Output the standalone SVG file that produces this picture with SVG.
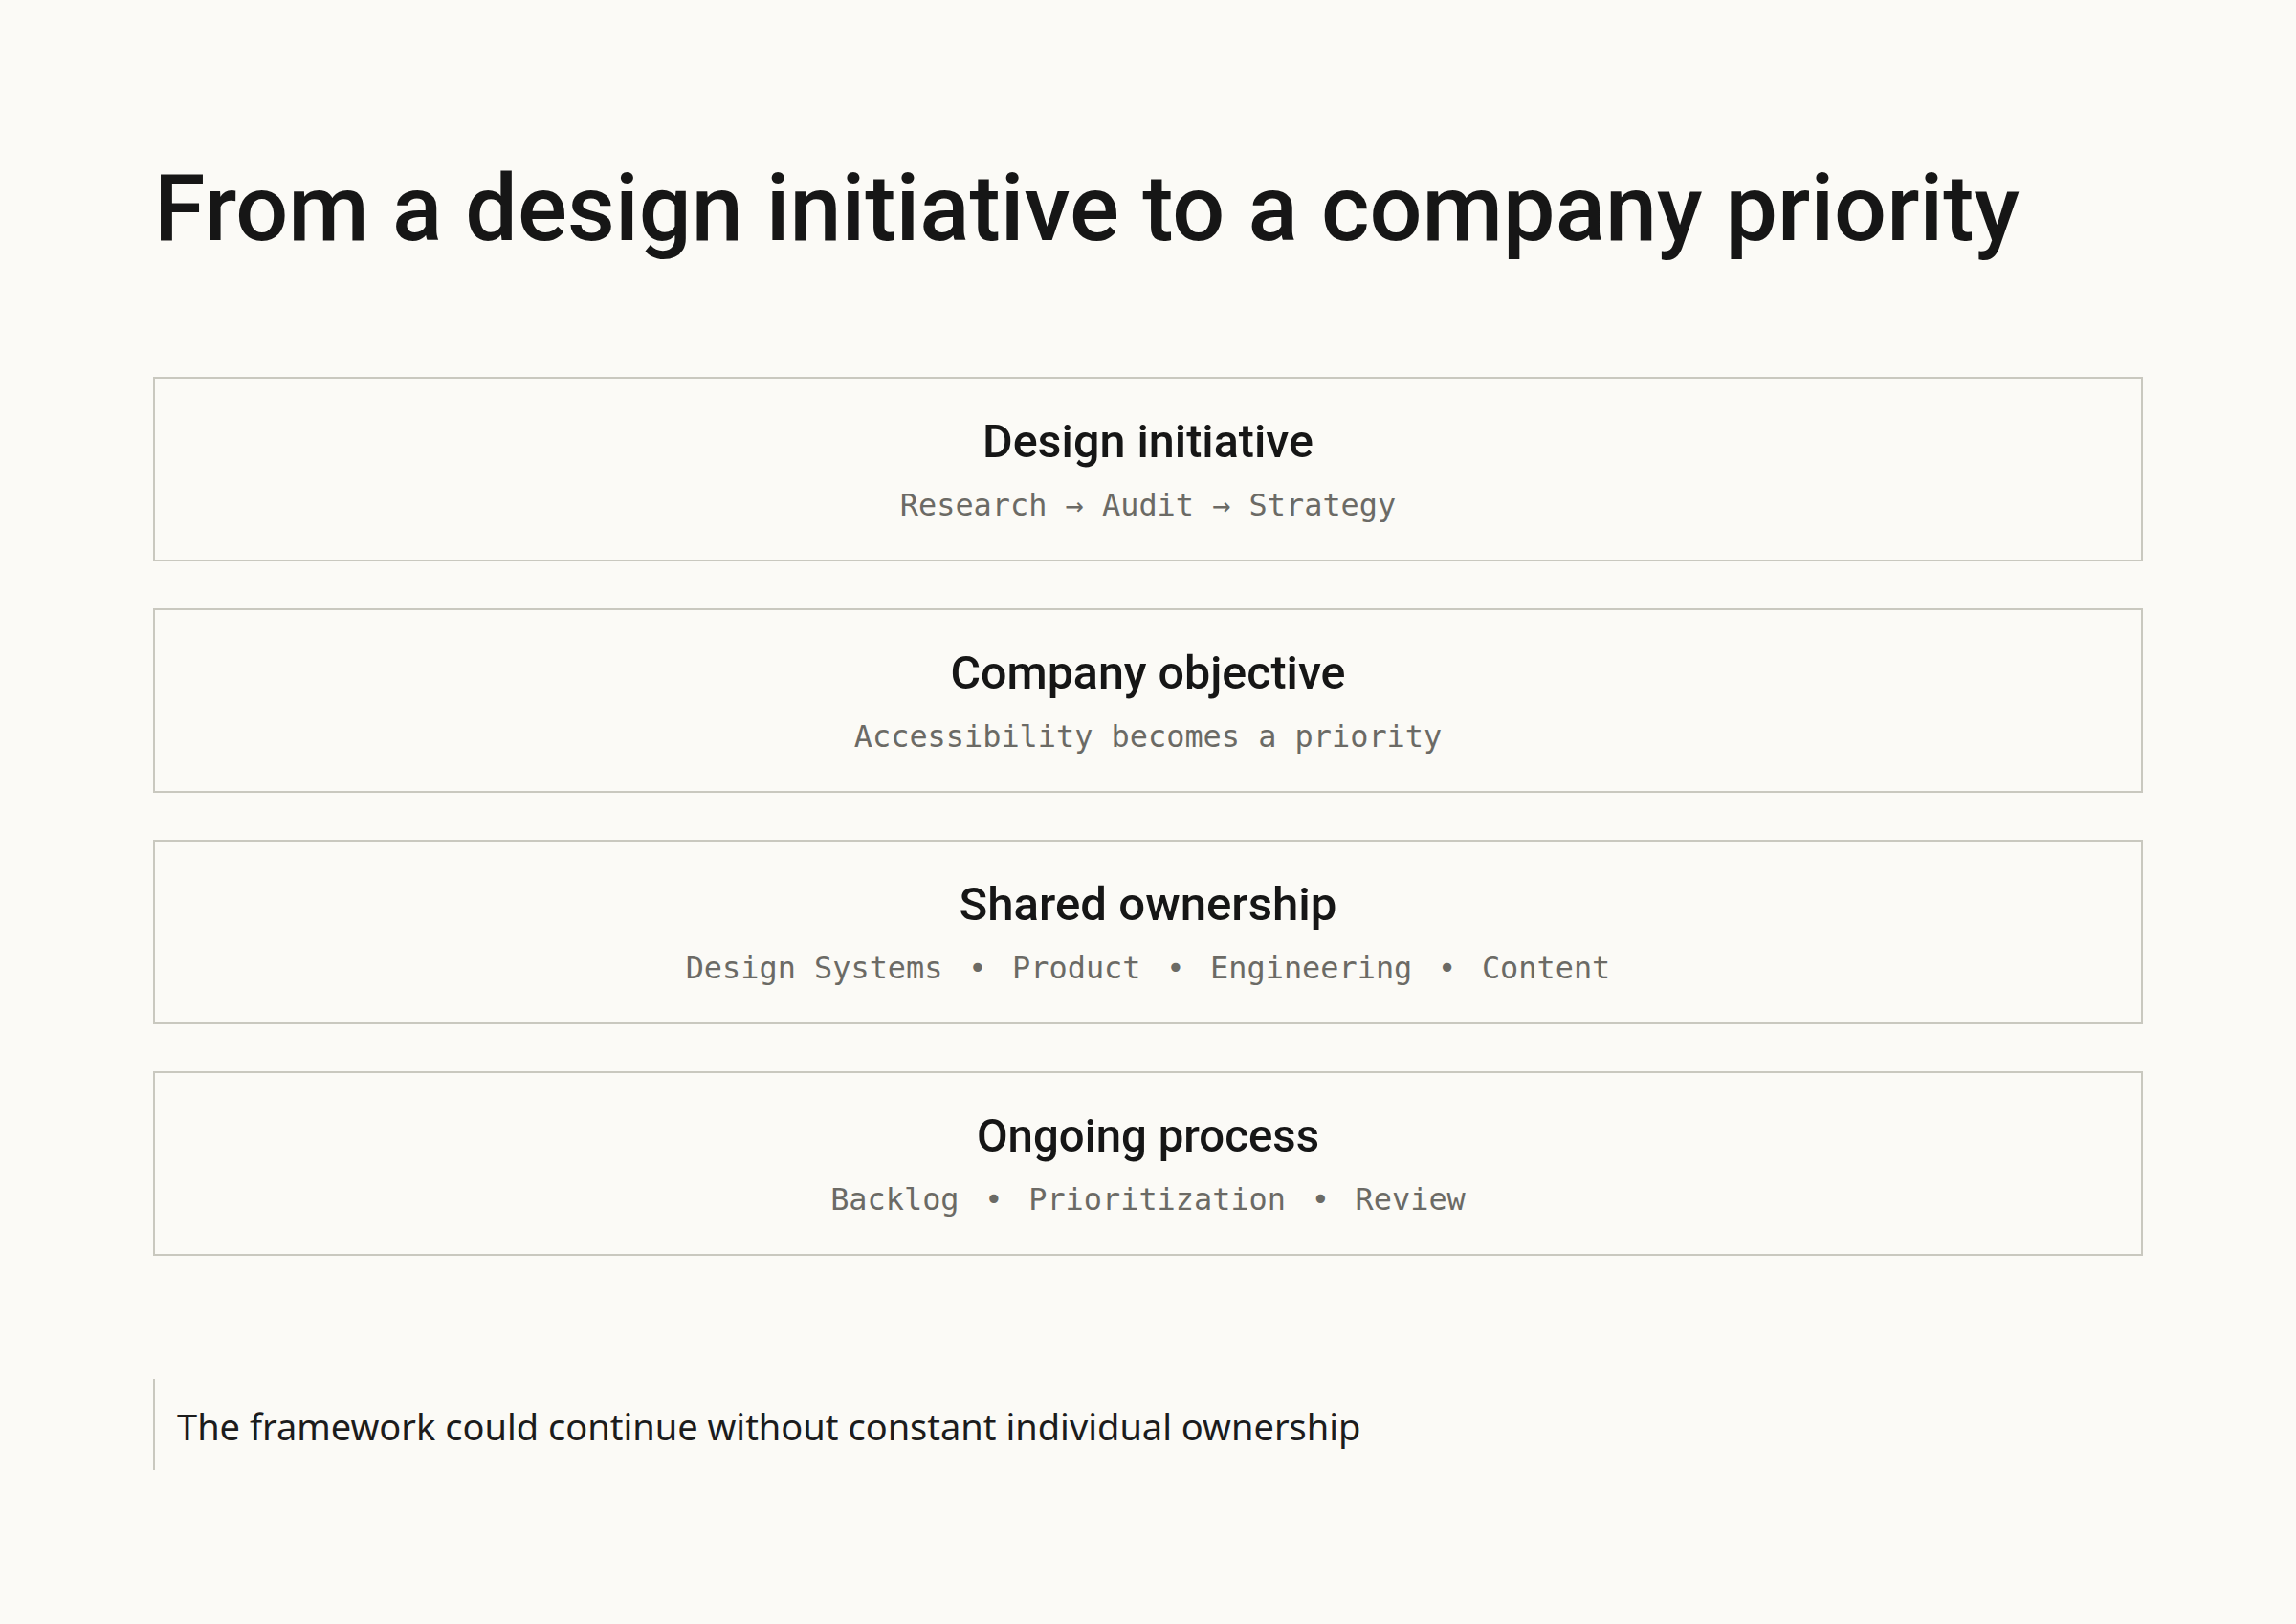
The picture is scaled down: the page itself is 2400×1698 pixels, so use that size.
<svg xmlns="http://www.w3.org/2000/svg" width="2400" height="1698" viewBox="0 0 2400 1698">
  <style>
    .bg { fill: #fbfaf6; }
    .box { fill: #fbfaf6; stroke: #c9c8bf; stroke-width: 2; }
    .h1 { font-family: Roboto, "Noto Sans", "Liberation Sans", sans-serif; font-size: 97px; font-weight: 500; fill: #161616; }
    .ttl { font-family: Roboto, "Noto Sans", "Liberation Sans", sans-serif; font-size: 49px; font-weight: 500; fill: #161616; text-anchor: middle; }
    .sub { font-family: "DejaVu Sans Mono", "Liberation Mono", monospace; font-size: 31.9px; fill: #6b6a65; text-anchor: middle; }
    .note { font-family: "Noto Sans", "Liberation Sans", sans-serif; font-size: 38px; fill: #1c1c1c; }
    .rule { stroke: #c9c8bf; stroke-width: 2; }
  </style>
  <rect class="bg" x="0" y="0" width="2400" height="1698"/>
  <text id="title" class="h1" x="161" y="251" textLength="1950" lengthAdjust="spacingAndGlyphs">From a design initiative to a company priority</text>

  <g id="connectors"></g>

  <g id="node-design-initiative">
    <rect class="box" x="161" y="395" width="2078" height="191"/>
    <text class="ttl" x="1200" y="478" textLength="346" lengthAdjust="spacingAndGlyphs">Design initiative</text>
    <text class="sub" x="1200" y="539">Research → Audit → Strategy</text>
  </g>
  <g id="node-company-objective">
    <rect class="box" x="161" y="637" width="2078" height="191"/>
    <text class="ttl" x="1200" y="720" textLength="413" lengthAdjust="spacingAndGlyphs">Company objective</text>
    <text class="sub" x="1200" y="781">Accessibility becomes a priority</text>
  </g>
  <g id="node-shared-ownership">
    <rect class="box" x="161" y="879" width="2078" height="191"/>
    <text class="ttl" x="1200" y="962" textLength="395" lengthAdjust="spacingAndGlyphs">Shared ownership</text>
    <text class="sub" x="1200" y="1023" xml:space="preserve">Design Systems<tspan dx="7.5"> • </tspan><tspan dx="7.5">Product</tspan><tspan dx="7.5"> • </tspan><tspan dx="7.5">Engineering</tspan><tspan dx="7.5"> • </tspan><tspan dx="7.5">Content</tspan></text>
  </g>
  <g id="node-ongoing-process">
    <rect class="box" x="161" y="1121" width="2078" height="191"/>
    <text class="ttl" x="1200" y="1204" textLength="358" lengthAdjust="spacingAndGlyphs">Ongoing process</text>
    <text class="sub" x="1200" y="1265" xml:space="preserve">Backlog<tspan dx="7.5"> • </tspan><tspan dx="7.5">Prioritization</tspan><tspan dx="7.5"> • </tspan><tspan dx="7.5">Review</tspan></text>
  </g>

  <g id="note">
    <line class="rule" x1="161" y1="1442" x2="161" y2="1537"/>
    <text class="note" x="185" y="1506">The framework could continue without constant individual ownership</text>
  </g>
</svg>
